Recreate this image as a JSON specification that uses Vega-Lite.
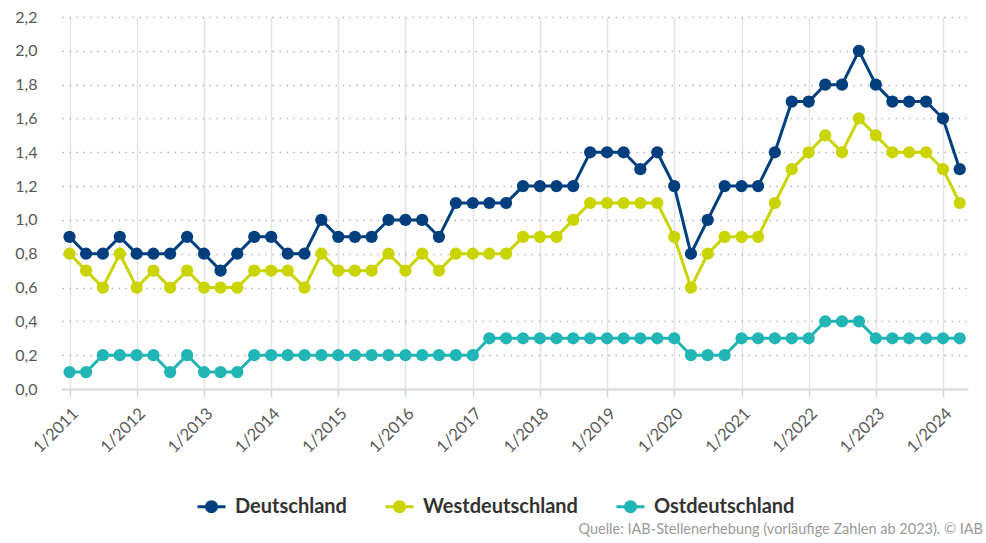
{
  "$schema": "https://vega.github.io/schema/vega-lite/v6.json",
  "width": 906,
  "height": 372,
  "autosize": {"type": "none"},
  "padding": {"left": 62, "top": 17, "right": 18, "bottom": 154},
  "background": "white",
  "data": {
    "format": {"parse": {"Quartal": "date:'%Y-%m-%d'"}},
    "values": [
      {"Quartal": "2011-01-01", "Deutschland": 0.9, "Westdeutschland": 0.8, "Ostdeutschland": 0.1},
      {"Quartal": "2011-04-01", "Deutschland": 0.8, "Westdeutschland": 0.7, "Ostdeutschland": 0.1},
      {"Quartal": "2011-07-01", "Deutschland": 0.8, "Westdeutschland": 0.6, "Ostdeutschland": 0.2},
      {"Quartal": "2011-10-01", "Deutschland": 0.9, "Westdeutschland": 0.8, "Ostdeutschland": 0.2},
      {"Quartal": "2012-01-01", "Deutschland": 0.8, "Westdeutschland": 0.6, "Ostdeutschland": 0.2},
      {"Quartal": "2012-04-01", "Deutschland": 0.8, "Westdeutschland": 0.7, "Ostdeutschland": 0.2},
      {"Quartal": "2012-07-01", "Deutschland": 0.8, "Westdeutschland": 0.6, "Ostdeutschland": 0.1},
      {"Quartal": "2012-10-01", "Deutschland": 0.9, "Westdeutschland": 0.7, "Ostdeutschland": 0.2},
      {"Quartal": "2013-01-01", "Deutschland": 0.8, "Westdeutschland": 0.6, "Ostdeutschland": 0.1},
      {"Quartal": "2013-04-01", "Deutschland": 0.7, "Westdeutschland": 0.6, "Ostdeutschland": 0.1},
      {"Quartal": "2013-07-01", "Deutschland": 0.8, "Westdeutschland": 0.6, "Ostdeutschland": 0.1},
      {"Quartal": "2013-10-01", "Deutschland": 0.9, "Westdeutschland": 0.7, "Ostdeutschland": 0.2},
      {"Quartal": "2014-01-01", "Deutschland": 0.9, "Westdeutschland": 0.7, "Ostdeutschland": 0.2},
      {"Quartal": "2014-04-01", "Deutschland": 0.8, "Westdeutschland": 0.7, "Ostdeutschland": 0.2},
      {"Quartal": "2014-07-01", "Deutschland": 0.8, "Westdeutschland": 0.6, "Ostdeutschland": 0.2},
      {"Quartal": "2014-10-01", "Deutschland": 1.0, "Westdeutschland": 0.8, "Ostdeutschland": 0.2},
      {"Quartal": "2015-01-01", "Deutschland": 0.9, "Westdeutschland": 0.7, "Ostdeutschland": 0.2},
      {"Quartal": "2015-04-01", "Deutschland": 0.9, "Westdeutschland": 0.7, "Ostdeutschland": 0.2},
      {"Quartal": "2015-07-01", "Deutschland": 0.9, "Westdeutschland": 0.7, "Ostdeutschland": 0.2},
      {"Quartal": "2015-10-01", "Deutschland": 1.0, "Westdeutschland": 0.8, "Ostdeutschland": 0.2},
      {"Quartal": "2016-01-01", "Deutschland": 1.0, "Westdeutschland": 0.7, "Ostdeutschland": 0.2},
      {"Quartal": "2016-04-01", "Deutschland": 1.0, "Westdeutschland": 0.8, "Ostdeutschland": 0.2},
      {"Quartal": "2016-07-01", "Deutschland": 0.9, "Westdeutschland": 0.7, "Ostdeutschland": 0.2},
      {"Quartal": "2016-10-01", "Deutschland": 1.1, "Westdeutschland": 0.8, "Ostdeutschland": 0.2},
      {"Quartal": "2017-01-01", "Deutschland": 1.1, "Westdeutschland": 0.8, "Ostdeutschland": 0.2},
      {"Quartal": "2017-04-01", "Deutschland": 1.1, "Westdeutschland": 0.8, "Ostdeutschland": 0.3},
      {"Quartal": "2017-07-01", "Deutschland": 1.1, "Westdeutschland": 0.8, "Ostdeutschland": 0.3},
      {"Quartal": "2017-10-01", "Deutschland": 1.2, "Westdeutschland": 0.9, "Ostdeutschland": 0.3},
      {"Quartal": "2018-01-01", "Deutschland": 1.2, "Westdeutschland": 0.9, "Ostdeutschland": 0.3},
      {"Quartal": "2018-04-01", "Deutschland": 1.2, "Westdeutschland": 0.9, "Ostdeutschland": 0.3},
      {"Quartal": "2018-07-01", "Deutschland": 1.2, "Westdeutschland": 1.0, "Ostdeutschland": 0.3},
      {"Quartal": "2018-10-01", "Deutschland": 1.4, "Westdeutschland": 1.1, "Ostdeutschland": 0.3},
      {"Quartal": "2019-01-01", "Deutschland": 1.4, "Westdeutschland": 1.1, "Ostdeutschland": 0.3},
      {"Quartal": "2019-04-01", "Deutschland": 1.4, "Westdeutschland": 1.1, "Ostdeutschland": 0.3},
      {"Quartal": "2019-07-01", "Deutschland": 1.3, "Westdeutschland": 1.1, "Ostdeutschland": 0.3},
      {"Quartal": "2019-10-01", "Deutschland": 1.4, "Westdeutschland": 1.1, "Ostdeutschland": 0.3},
      {"Quartal": "2020-01-01", "Deutschland": 1.2, "Westdeutschland": 0.9, "Ostdeutschland": 0.3},
      {"Quartal": "2020-04-01", "Deutschland": 0.8, "Westdeutschland": 0.6, "Ostdeutschland": 0.2},
      {"Quartal": "2020-07-01", "Deutschland": 1.0, "Westdeutschland": 0.8, "Ostdeutschland": 0.2},
      {"Quartal": "2020-10-01", "Deutschland": 1.2, "Westdeutschland": 0.9, "Ostdeutschland": 0.2},
      {"Quartal": "2021-01-01", "Deutschland": 1.2, "Westdeutschland": 0.9, "Ostdeutschland": 0.3},
      {"Quartal": "2021-04-01", "Deutschland": 1.2, "Westdeutschland": 0.9, "Ostdeutschland": 0.3},
      {"Quartal": "2021-07-01", "Deutschland": 1.4, "Westdeutschland": 1.1, "Ostdeutschland": 0.3},
      {"Quartal": "2021-10-01", "Deutschland": 1.7, "Westdeutschland": 1.3, "Ostdeutschland": 0.3},
      {"Quartal": "2022-01-01", "Deutschland": 1.7, "Westdeutschland": 1.4, "Ostdeutschland": 0.3},
      {"Quartal": "2022-04-01", "Deutschland": 1.8, "Westdeutschland": 1.5, "Ostdeutschland": 0.4},
      {"Quartal": "2022-07-01", "Deutschland": 1.8, "Westdeutschland": 1.4, "Ostdeutschland": 0.4},
      {"Quartal": "2022-10-01", "Deutschland": 2.0, "Westdeutschland": 1.6, "Ostdeutschland": 0.4},
      {"Quartal": "2023-01-01", "Deutschland": 1.8, "Westdeutschland": 1.5, "Ostdeutschland": 0.3},
      {"Quartal": "2023-04-01", "Deutschland": 1.7, "Westdeutschland": 1.4, "Ostdeutschland": 0.3},
      {"Quartal": "2023-07-01", "Deutschland": 1.7, "Westdeutschland": 1.4, "Ostdeutschland": 0.3},
      {"Quartal": "2023-10-01", "Deutschland": 1.7, "Westdeutschland": 1.4, "Ostdeutschland": 0.3},
      {"Quartal": "2024-01-01", "Deutschland": 1.6, "Westdeutschland": 1.3, "Ostdeutschland": 0.3},
      {"Quartal": "2024-04-01", "Deutschland": 1.3, "Westdeutschland": 1.1, "Ostdeutschland": 0.3}
    ]
  },
  "transform": [
    {"fold": ["Deutschland", "Westdeutschland", "Ostdeutschland"], "as": ["Region", "Wert"]}
  ],
  "title": {
    "text": "Quelle: IAB-Stellenerhebung (vorläufige Zahlen ab 2023). © IAB",
    "orient": "bottom",
    "anchor": "end",
    "frame": "group",
    "offset": 5,
    "dx": 15,
    "fontSize": 14.5,
    "fontWeight": "normal",
    "color": "#9a9a9a",
    "font": "Lato"
  },
  "mark": {"type": "line", "strokeWidth": 3, "point": {"filled": true, "size": 150, "opacity": 1}},
  "encoding": {
    "x": {
      "field": "Quartal",
      "type": "temporal",
      "scale": {"domain": [{"year": 2010, "month": 11, "date": 21}, {"year": 2024, "month": 5, "date": 16}]},
      "axis": {
        "title": null,
        "format": "1/%Y",
        "tickCount": {"interval": "year", "step": 1},
        "labelAngle": -45,
        "labelFontSize": 16.5,
        "labelColor": "#595959",
        "labelFont": "Lato",
        "labelPadding": 8,
        "domainColor": "#dedede",
        "domainWidth": 2.5,
        "tickColor": "#c8d6ec",
        "tickSize": 8,
        "tickWidth": 1.5,
        "grid": true,
        "gridColor": "#e2e2e2",
        "gridWidth": 1.5
      }
    },
    "y": {
      "field": "Wert",
      "type": "quantitative",
      "scale": {"domain": [0, 2.2], "nice": false},
      "axis": {
        "title": null,
        "values": [0, 0.2, 0.4, 0.6, 0.8, 1.0, 1.2, 1.4, 1.6, 1.8, 2.0, 2.2],
        "labelExpr": "replace(format(datum.value, '.1f'), '.', ',')",
        "labelFontSize": 16,
        "labelColor": "#595959",
        "labelFont": "Lato",
        "labelPadding": 25,
        "domain": false,
        "ticks": false,
        "grid": true,
        "gridColor": "#b8b8b8",
        "gridDash": [1.5, 5.5],
        "gridWidth": 1.5
      }
    },
    "color": {
      "field": "Region",
      "type": "nominal",
      "scale": {
        "domain": ["Deutschland", "Westdeutschland", "Ostdeutschland"],
        "range": ["#003f7e", "#c9d400", "#22b5b5"]
      },
      "legend": {
        "title": null,
        "orient": "none",
        "direction": "horizontal",
        "legendX": 134,
        "legendY": 474,
        "labelFont": "Lato",
        "labelFontSize": 20,
        "labelFontWeight": "bold",
        "labelColor": "#333333",
        "labelOffset": 8,
        "columnPadding": 32,
        "symbolType": "M-1,0H1M-0.36,0A0.36,0.36,0,1,1,0.36,0A0.36,0.36,0,1,1,-0.36,0Z",
        "symbolSize": 784,
        "symbolStrokeWidth": 3,
        "encode": {
          "symbols": {
            "update": {
              "fill": {"scale": "color", "field": "value"},
              "stroke": {"scale": "color", "field": "value"},
              "strokeWidth": {"value": 3},
              "opacity": {"value": 1}
            }
          }
        }
      }
    },
    "order": {"field": "Region"}
  },
  "config": {
    "view": {"stroke": null}
  }
}
